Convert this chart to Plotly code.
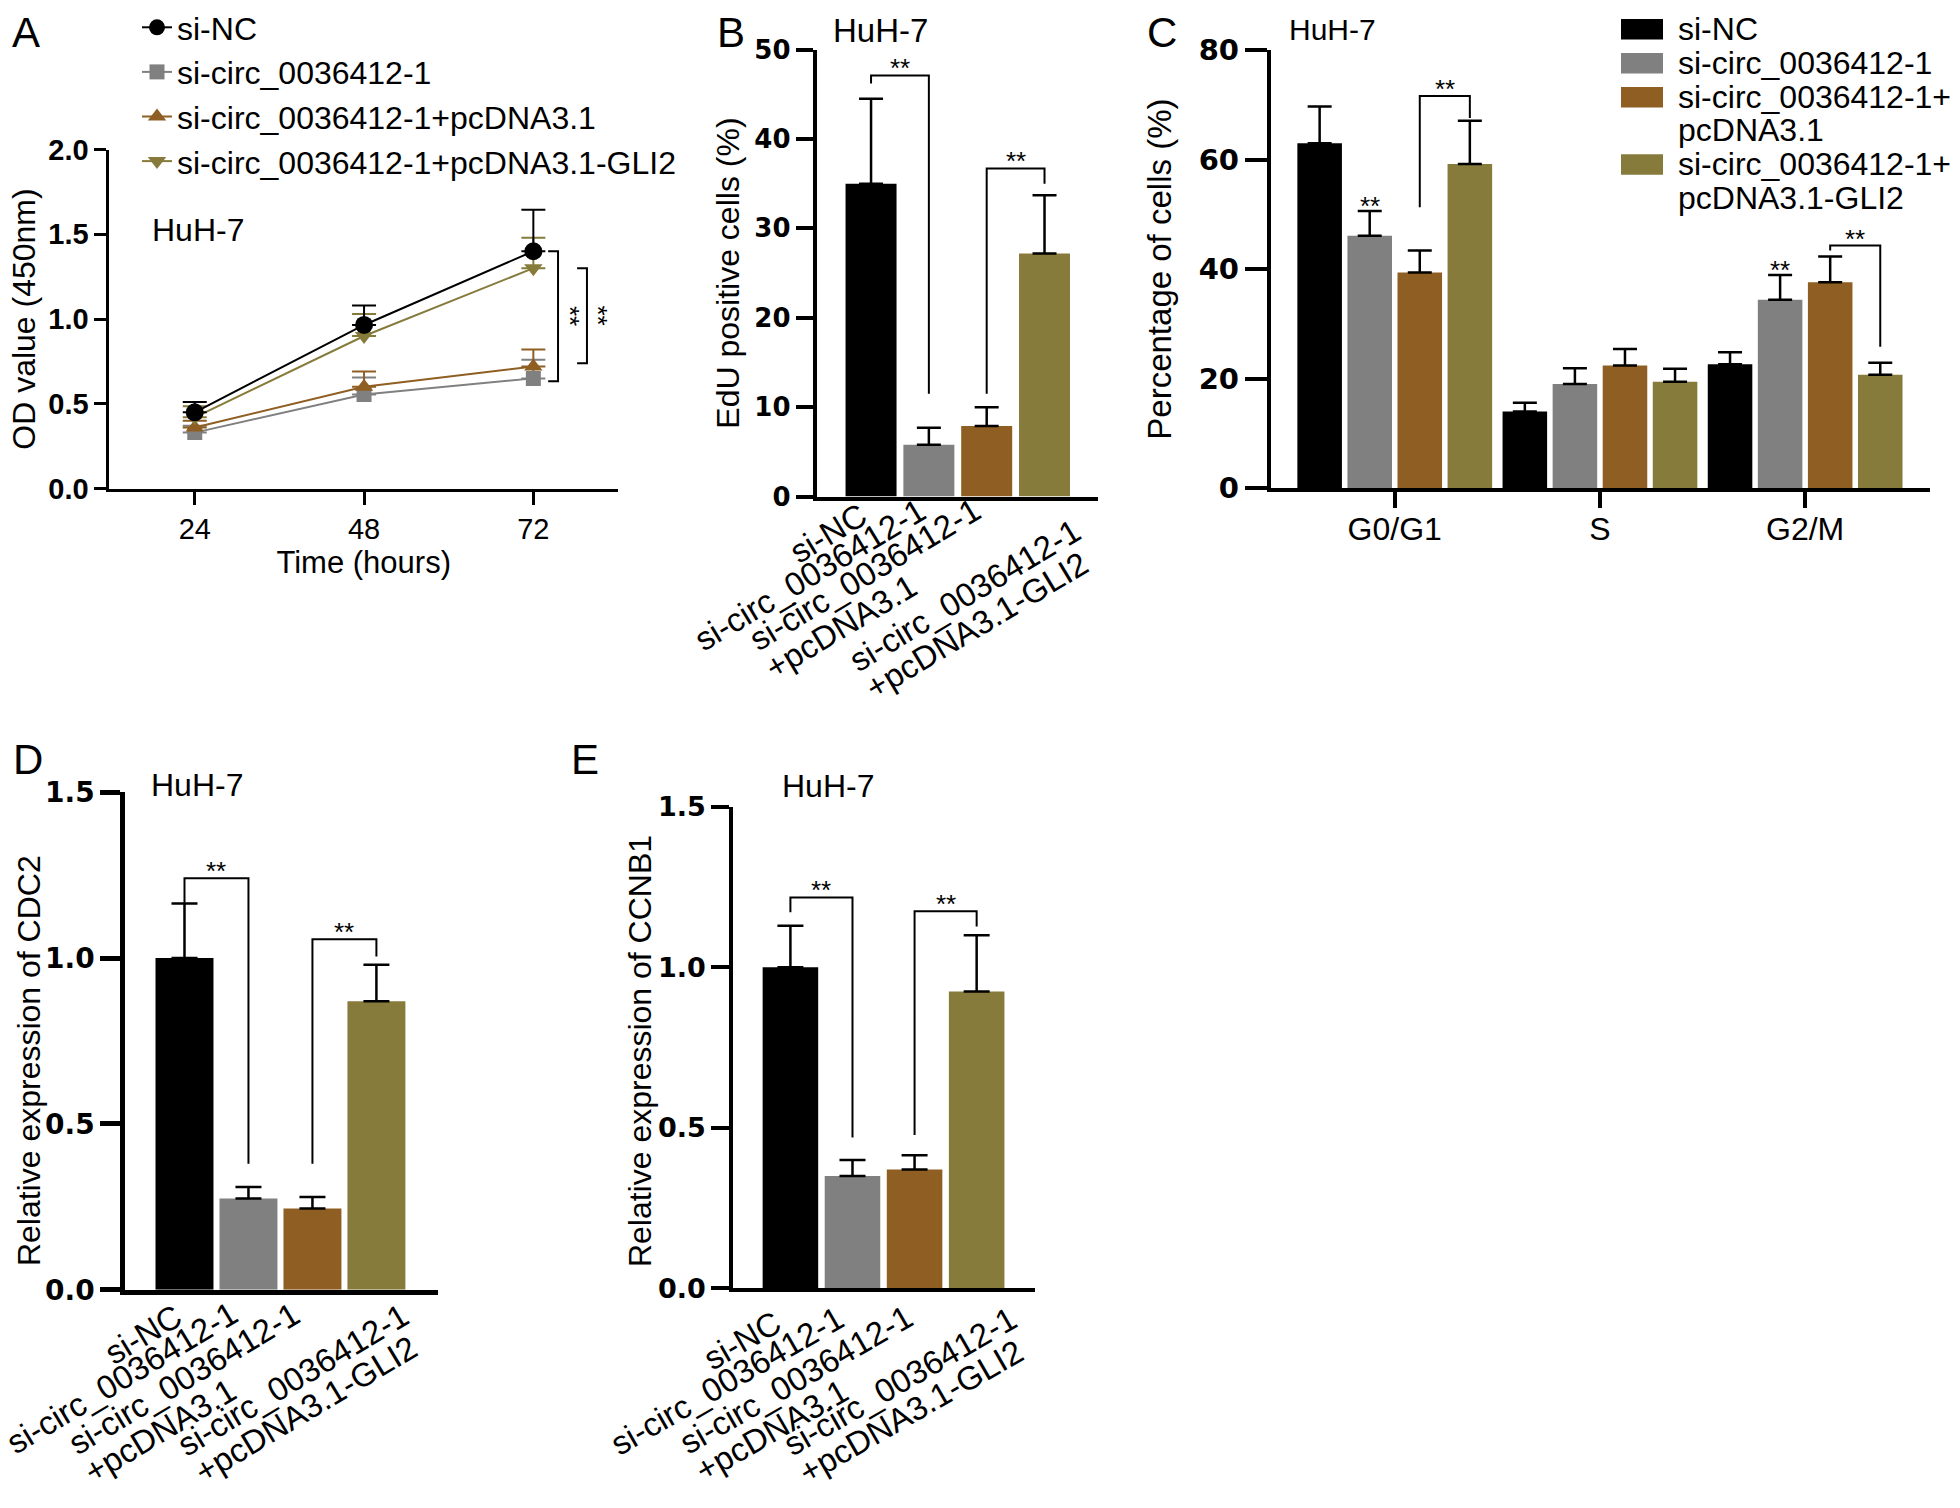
import math
import plotly.graph_objects as go

W, H = 1960, 1508
FONT = "Liberation Sans, Arial, sans-serif"
BOLD = "DejaVu Sans, Arial Black, sans-serif"

# ---------------- data ----------------
group_names = ["si-NC", "si-circ_0036412-1", "si-circ_0036412-1+pcDNA3.1",
               "si-circ_0036412-1+pcDNA3.1-GLI2"]
group_colors = ["#000000", "#808080", "#8F5E22", "#877B3C"]
bar_tick_labels = ["si-NC", "si-circ_0036412-1", "si-circ_0036412-1<br>+pcDNA3.1",
                   "si-circ_0036412-1<br>+pcDNA3.1-GLI2"]
legend_c_labels = ["si-NC", "si-circ_0036412-1", "si-circ_0036412-1+<br>pcDNA3.1",
                   "si-circ_0036412-1+<br>pcDNA3.1-GLI2"]

# Panel A (CCK-8)
time_hours = [24, 48, 72]
od_si_nc = [0.45, 0.965, 1.40]
od_si_nc_err = [0.06, 0.115, 0.245]
od_si_circ = [0.33, 0.555, 0.65]
od_si_circ_err = [0.04, 0.10, 0.11]
od_pcdna = [0.36, 0.60, 0.72]
od_pcdna_err = [0.04, 0.09, 0.10]
od_gli2 = [0.42, 0.90, 1.30]
od_gli2_err = [0.065, 0.13, 0.18]
od_ticks = [0.0, 0.5, 1.0, 1.5, 2.0]

# Panel B (EdU)
edu_mean = [35.0, 5.8, 7.9, 27.2]
edu_err = [9.5, 1.9, 2.1, 6.5]
edu_ticks = [0, 10, 20, 30, 40, 50]

# Panel C (cell cycle)
phases = ["G0/G1", "S", "G2/M"]
cc_si_nc = [63.0, 14.0, 22.6]
cc_si_nc_err = [6.7, 1.6, 2.2]
cc_si_circ = [46.1, 19.0, 34.4]
cc_si_circ_err = [4.5, 2.9, 4.5]
cc_pcdna = [39.4, 22.4, 37.6]
cc_pcdna_err = [4.0, 3.0, 4.7]
cc_gli2 = [59.2, 19.4, 20.7]
cc_gli2_err = [7.9, 2.4, 2.2]
cc_ticks = [0, 20, 40, 60, 80]

# Panel D (CDC2) and E (CCNB1)
cdc2_mean = [1.0, 0.275, 0.245, 0.87]
cdc2_err = [0.165, 0.035, 0.035, 0.11]
ccnb1_mean = [1.0, 0.35, 0.37, 0.925]
ccnb1_err = [0.13, 0.05, 0.045, 0.175]
rel_ticks = [0.0, 0.5, 1.0, 1.5]

# significance brackets: (left bar, right bar, top, left leg end, right leg end)
sig_b = [(0, 1, 47.1, 46.2, 11.5), (2, 3, 36.7, 11.5, 35.0)]
sig_d = [(0, 1, 1.241, 1.167, 0.38), (2, 3, 1.057, 0.38, 1.005)]
sig_e = [(0, 1, 1.218, 1.172, 0.47), (2, 3, 1.175, 0.478, 1.127)]
# panel C: (phase, left trace, right trace, top, left end, right end)
sig_c = [(0, 2, 3, 71.6, 51.3, 67.6), (2, 2, 3, 44.3, 43.4, 25.8)]
# panel C single marks vs si-NC: (phase, trace)
sig_c_single = [(0, 1), (2, 1)]
# panel A vertical brackets: (upper value, lower value, x of bracket in hours)
sig_a = [(1.40, 0.633, 75.5), (1.30, 0.739, 79.6)]

# ---------------- style helpers ----------------
# Arial advance widths (em) for aligning the rotated, left-aligned label lines
ARIAL_W = {"s": .5, "i": .222, "-": .333, "c": .5, "r": .333, "_": .556, "+": .584,
           "p": .556, "D": .722, "N": .722, "A": .667, ".": .278, "G": .778, "L": .556,
           "I": .278, "C": .722}

# vertical placement calibration (target picture row -> figure row)
Y_OFF, Y_SCALE = 16.9, 0.9765


def text_w(s, fs):
    return fs * sum(ARIAL_W.get(ch, 0.556) for ch in s)


def Y(t):
    return (t - Y_OFF) / Y_SCALE


def dom_x(a, b):
    return [a / W, b / W]


def dom_y(top, bottom):
    return [1 - Y(bottom) / H, 1 - Y(top) / H]


def px(xp):
    return xp / W


def py(yp):
    return 1 - Y(yp) / H


def pyf(yspec):
    return 1 - yspec / H


fig = go.Figure()
annotations = []
shapes = []

# ---------------- Panel A ----------------
a_series = [(od_si_circ, od_si_circ_err, 1, "square", 15),
            (od_pcdna, od_pcdna_err, 2, "triangle-up", 16),
            (od_gli2, od_gli2_err, 3, "triangle-down", 16),
            (od_si_nc, od_si_nc_err, 0, "circle", 18)]
for vals, errs, gi, sym, size in a_series:
    c = group_colors[gi]
    fig.add_trace(go.Scatter(
        x=time_hours, y=vals, name=group_names[gi], mode="lines+markers",
        line=dict(color=c, width=2), marker=dict(symbol=sym, size=size, color=c),
        error_y=dict(type="data", array=errs, arrayminus=[0] * len(errs), symmetric=False,
                     color=c, thickness=2, width=12),
        legendrank=gi + 1, xaxis="x", yaxis="y"))

for top, bot, xl in sig_a:
    shapes.append(dict(type="path", xref="x", yref="y",
                       path=f"M {xl - 1.4},{top} L {xl},{top} L {xl},{bot} L {xl - 1.4},{bot}",
                       line=dict(color="black", width=2)))
    annotations.append(dict(x=xl + 1.6, y=(top + bot) / 2, xref="x", yref="y", text="**",
                            textangle=90, showarrow=False, font=dict(size=26, family=FONT)))


# ---------------- bar panels B, D, E ----------------
def bar_labels(xr, yr, angle, fs, dxs, dys, line_gap):
    th = math.radians(angle)
    s, c = math.sin(th), math.cos(th)
    h1 = 1.117 * fs + 4
    for i, lab in enumerate(bar_tick_labels):
        lines = lab.split("<br>")
        w0 = text_w(lines[0], fs)
        for k, ln in enumerate(lines):
            dw = w0 - text_w(ln, fs)
            trx = dxs[i] + k * line_gap * s - dw * c
            tr_y = dys[i] + k * line_gap * c + dw * s
            annotations.append(dict(x=i, y=0, xref=xr, yref=yr, text=ln, textangle=-angle,
                                    xanchor="right", yanchor="top", showarrow=False,
                                    xshift=trx + h1 * s, yshift=-tr_y,
                                    font=dict(size=fs, family=FONT, color="black")))


def bar_panel(xa, ya, means, errs, width, sigs, cap):
    fig.add_trace(go.Bar(
        x=list(range(len(means))), y=means, width=width, offset=-width / 2,
        marker=dict(color=group_colors, line=dict(width=0)),
        error_y=dict(type="data", array=errs, arrayminus=[0] * len(errs), symmetric=False,
                     color="black", thickness=2.5, width=cap),
        showlegend=False, xaxis=xa, yaxis=ya))
    for l, r, top, le, re_ in sigs:
        shapes.append(dict(type="path", xref=xa, yref=ya,
                           path=f"M {l},{le} L {l},{top} L {r},{top} L {r},{re_}",
                           line=dict(color="black", width=2)))
        annotations.append(dict(x=(l + r) / 2, y=top, xref=xa, yref=ya, text="**",
                                yanchor="bottom", yshift=-10, showarrow=False,
                                font=dict(size=26, family=FONT)))


bar_panel("x2", "y2", edu_mean, edu_err, 0.882, sig_b, 12)
bar_panel("x4", "y4", cdc2_mean, cdc2_err, 0.906, sig_d, 13)
bar_panel("x5", "y5", ccnb1_mean, ccnb1_err, 0.895, sig_e, 13)
bar_labels("x2", "y2", 31, 33, [-17, -15, -18.5, 23.5], [-2.7, -7.7, -7.7, 13.3], 32)
bar_labels("x4", "y4", 31, 33, [-15.3, -22.5, -25, 20.6], [5, 2, 3, 4], 32)
bar_labels("x5", "y5", 30, 33, [-21.5, -20, -13.5, 28], [13, 8, 7, 9], 32)

# ---------------- Panel C ----------------
BARGAP_C = 0.024
c_series = [(cc_si_nc, cc_si_nc_err), (cc_si_circ, cc_si_circ_err),
            (cc_pcdna, cc_pcdna_err), (cc_gli2, cc_gli2_err)]
for gi, (vals, errs) in enumerate(c_series):
    fig.add_trace(go.Bar(
        x=list(range(len(phases))), y=vals, name=group_names[gi],
        marker=dict(color=group_colors[gi], line=dict(width=0)),
        error_y=dict(type="data", array=errs, arrayminus=[0] * len(errs), symmetric=False,
                     color="black", thickness=2.5, width=12),
        showlegend=False, xaxis="x3", yaxis="y3"))


def c_pos(phase, trace):
    slot = (1 - BARGAP_C) / len(c_series)
    return phase + (trace - (len(c_series) - 1) / 2) * slot


for ph, l, r, top, le, re_ in sig_c:
    xl, xr_ = c_pos(ph, l), c_pos(ph, r)
    shapes.append(dict(type="path", xref="x3", yref="y3",
                       path=f"M {xl},{le} L {xl},{top} L {xr_},{top} L {xr_},{re_}",
                       line=dict(color="black", width=2)))
    annotations.append(dict(x=(xl + xr_) / 2, y=top, xref="x3", yref="y3", text="**",
                            yanchor="bottom", yshift=-10, showarrow=False,
                            font=dict(size=26, family=FONT)))
for ph, t in sig_c_single:
    vals, errs = c_series[t]
    annotations.append(dict(x=c_pos(ph, t), y=vals[ph] + errs[ph], xref="x3", yref="y3",
                            text="**", yanchor="bottom", yshift=-12, showarrow=False,
                            font=dict(size=26, family=FONT)))

# legend for panel C (wide colour keys, tight line spacing); rows in figure px
leg_rows = [[12.5], [47.3], [82.1, 116.1], [150.9, 185.0]]
for gi, lab in enumerate(legend_c_labels):
    rows = leg_rows[gi]
    shapes.append(dict(type="rect", xref="paper", yref="paper",
                       x0=px(1621), x1=px(1663), y0=pyf(rows[0] + 10.5), y1=pyf(rows[0] - 10.5),
                       fillcolor=group_colors[gi], line=dict(width=0)))
    for line_txt, yy in zip(lab.split("<br>"), rows):
        annotations.append(dict(x=px(1676), y=pyf(yy), xref="paper", yref="paper",
                                text=line_txt, xanchor="left", yanchor="middle",
                                showarrow=False, font=dict(size=32, family=FONT)))

# ---------------- texts: HuH-7, panel letters, D/E y titles ----------------
for (xx, yspec, sz) in [(197.5, Y(229.6), 32), (880, 14, 33), (1332, 13, 30),
                        (197.4, Y(784), 32), (827.5, Y(785), 32)]:
    annotations.append(dict(x=px(xx), y=pyf(yspec), xref="paper", yref="paper", text="HuH-7",
                            showarrow=False, xanchor="center", yanchor="middle",
                            font=dict(size=sz, family=FONT)))
for (letter, xx, yspec) in [("A", 25.5, 16), ("B", 730.5, 16), ("C", 1162, 16),
                            ("D", 28, Y(759)), ("E", 585, Y(759))]:
    annotations.append(dict(x=px(xx), y=pyf(yspec), xref="paper", yref="paper", text=letter,
                            showarrow=False, xanchor="center", yanchor="middle",
                            font=dict(size=42, family=FONT)))
for (title, xx, yy) in [("Relative expression of CDC2", 29, 1060),
                        ("Relative expression of CCNB1", 640, 1050)]:
    annotations.append(dict(x=px(xx), y=py(yy), xref="paper", yref="paper", text=title,
                            textangle=-90, showarrow=False, xanchor="center", yanchor="middle",
                            font=dict(size=32, family=FONT)))


# ---------------- axes ----------------
def yax(domain_y, anchor, rng, ticks, fmt, font, title, tsize, standoff, ticklen, lw):
    ax = dict(domain=domain_y, anchor=anchor, range=rng, tickvals=ticks,
              tickformat=fmt, ticks="outside", ticklen=ticklen, tickwidth=lw,
              tickcolor="black", showline=True, linewidth=lw, linecolor="black",
              showgrid=False, zeroline=False, tickfont=font, fixedrange=True)
    if title:
        ax["title"] = dict(text=title, font=dict(size=tsize, family=FONT), standoff=standoff)
    return ax


def xbar(domain_x, anchor, rng, lw):
    return dict(domain=domain_x, anchor=anchor, range=rng, showline=True, linewidth=lw,
                linecolor="black", showgrid=False, zeroline=False, showticklabels=False,
                ticks="", fixedrange=True)


layout = dict(
    width=W, height=H, margin=dict(l=0, r=0, t=0, b=0),
    paper_bgcolor="white", plot_bgcolor="white",
    font=dict(family=FONT, color="black"),
    barmode="group", bargap=BARGAP_C, bargroupgap=0.11,
    showlegend=True,
    legend=dict(x=px(137), y=pyf(-17.7), xanchor="left", yanchor="top",
                font=dict(size=32, family=FONT), traceorder="normal",
                bgcolor="rgba(0,0,0,0)"),
    # A
    xaxis=dict(domain=dom_x(109.4, 618), anchor="y", range=[11.9, 84], tickvals=time_hours,
               ticks="outside", ticklen=13, tickwidth=3, tickcolor="black", showline=True,
               linewidth=3, linecolor="black", showgrid=False, zeroline=False,
               tickfont=dict(size=29, family=FONT), fixedrange=True,
               title=dict(text="Time (hours)", font=dict(size=31, family=FONT), standoff=6)),
    yaxis=yax(dom_y(149.3, 488), "x", [0, 2], od_ticks, ".1f",
              dict(size=29, family=FONT, weight="bold"), "OD value (450nm)", 32, 4, 12, 3),
    # B
    xaxis2=xbar(dom_x(816.7, 1098), "y2", [-0.94, 3.925], 4),
    yaxis2=yax(dom_y(49.4, 496), "x2", [0, 50], edu_ticks, "d",
               dict(size=26, family=BOLD, weight="bold"), "EdU positive cells (%)", 32, 6, 17, 4),
    # C
    xaxis3=dict(domain=dom_x(1270.8, 1929.7), anchor="y3", range=[-0.604, 2.607],
                tickvals=list(range(len(phases))), ticktext=phases, ticks="outside",
                ticklen=16, tickwidth=4, tickcolor="black", showline=True, linewidth=4,
                linecolor="black", showgrid=False, zeroline=False, ticklabelstandoff=-6,
                tickfont=dict(size=32, family=FONT), fixedrange=True),
    yaxis3=yax(dom_y(50, 487.5), "x3", [0, 80], cc_ticks, "d",
               dict(size=29, family=BOLD, weight="bold"), "Percentage of cells (%)", 33, 18, 22, 4),
    # D
    xaxis4=xbar(dom_x(125, 437.5), "y4", [-0.93, 3.955], 4.5),
    yaxis4=yax(dom_y(791.4, 1288.5), "x4", [0, 1.5], rel_ticks, ".1f",
               dict(size=28, family=BOLD, weight="bold"), None, 32, 0, 20, 4.5),
    # E
    xaxis5=xbar(dom_x(733.3, 1035), "y5", [-0.92, 3.94], 4),
    yaxis5=yax(dom_y(806, 1287), "x5", [0, 1.5], rel_ticks, ".1f",
               dict(size=27, family=BOLD, weight="bold"), None, 32, 0, 18, 4),
    annotations=annotations,
    shapes=shapes,
)
fig.update_layout(**layout)
fig.write_html("out.html", config={"displayModeBar": False},
               post_script="document.body.style.margin='0';document.body.style.overflow='hidden';")
